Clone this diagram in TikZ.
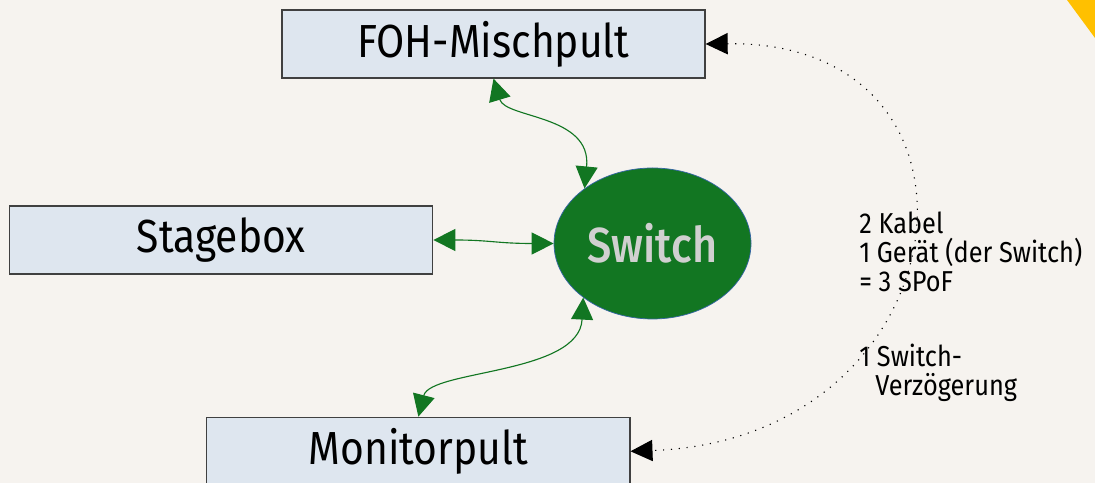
\documentclass[tikz,border=0pt]{standalone}
\usepackage{fontspec}
\setmainfont{Fira Sans}[FakeStretch=0.88]
\newfontfamily\hubfont{Fira Sans Medium}[FakeStretch=0.88]
\usetikzlibrary{shapes.geometric}
\usetikzlibrary{arrows.meta}

\definecolor{bg}{RGB}{246,243,239}
\definecolor{boxfill}{RGB}{222,230,239}
\definecolor{netgreen}{RGB}{18,118,34}
\definecolor{rimblue}{RGB}{52,101,164}
\definecolor{gold}{RGB}{255,192,0}
\definecolor{switchtext}{RGB}{208,208,208}

\begin{document}
\begin{tikzpicture}[
    device/.style={draw=black!75, line width=0.9pt, fill=boxfill, inner sep=0pt,
      minimum width=10.575cm, minimum height=1.7cm,
      font=\fontsize{33}{40}\selectfont},
    hub/.style={ellipse, draw=rimblue, line width=0.5pt, fill=netgreen, inner sep=0pt,
      minimum width=4.925cm, minimum height=3.775cm, text=switchtext,
      font=\hubfont\fontsize{35}{40}\selectfont},
    link/.style={netgreen, line width=0.8pt,
      {Triangle[length=0.55cm,width=0.55cm]}-{Triangle[length=0.55cm,width=0.55cm]}},
    bypass/.style={black, line width=0.8pt, dash pattern=on 0.8pt off 4.8pt,
      {Triangle[length=0.55cm,width=0.53cm]}-{Triangle[length=0.55cm,width=0.53cm]}},
    note/.style={align=left, inner sep=0pt, anchor=north west,
      font=\fontsize{20.5}{20.5}\selectfont}
  ]
  \path[use as bounding box, clip] (0,0) rectangle (27.375,12.075);
  \fill[bg] (0,0) rectangle (27.375,12.075);
  \fill[gold] (26.675,12.075) -- (27.375,12.075) -- (27.375,11.125) -- cycle;

  % Geraete
  \node[device] (foh) at (12.3375,10.975) {FOH-Mischpult};
  \node[device] (stage) at (5.531,6.075) {Stagebox};
  \node[device] (mon) at (10.459,0.7925) {Monitorpult};
  \node[hub] (sw) at (16.3125,5.9875) {Switch};

  % Netzwerk ueber den Switch
  \draw[link] (foh.south) .. controls +(0.3,-1.0) and +(0.18,1.85) .. (sw.141);
  \draw[link] (stage.east) .. controls +(1.4,0) and +(-1.4,0) .. (sw.west);
  \draw[link] (sw.218) .. controls +(-0.1,-1.925) and +(0.3,1.175) .. (mon.north);

  % direkte Verbindung
  \draw[bypass] (foh.east) .. controls +(7.7,0.1) and +(8.4,0.3) .. (mon.east);

  \node[note] (spof) at (21.475,6.78) {2 Kabel\\1 Gerät (der Switch)\\= 3 SPoF};
  \node[note] (delay) at (21.475,3.48) {1 Switch-\\\hspace*{0.4cm}Verzögerung};
\end{tikzpicture}
\end{document}
